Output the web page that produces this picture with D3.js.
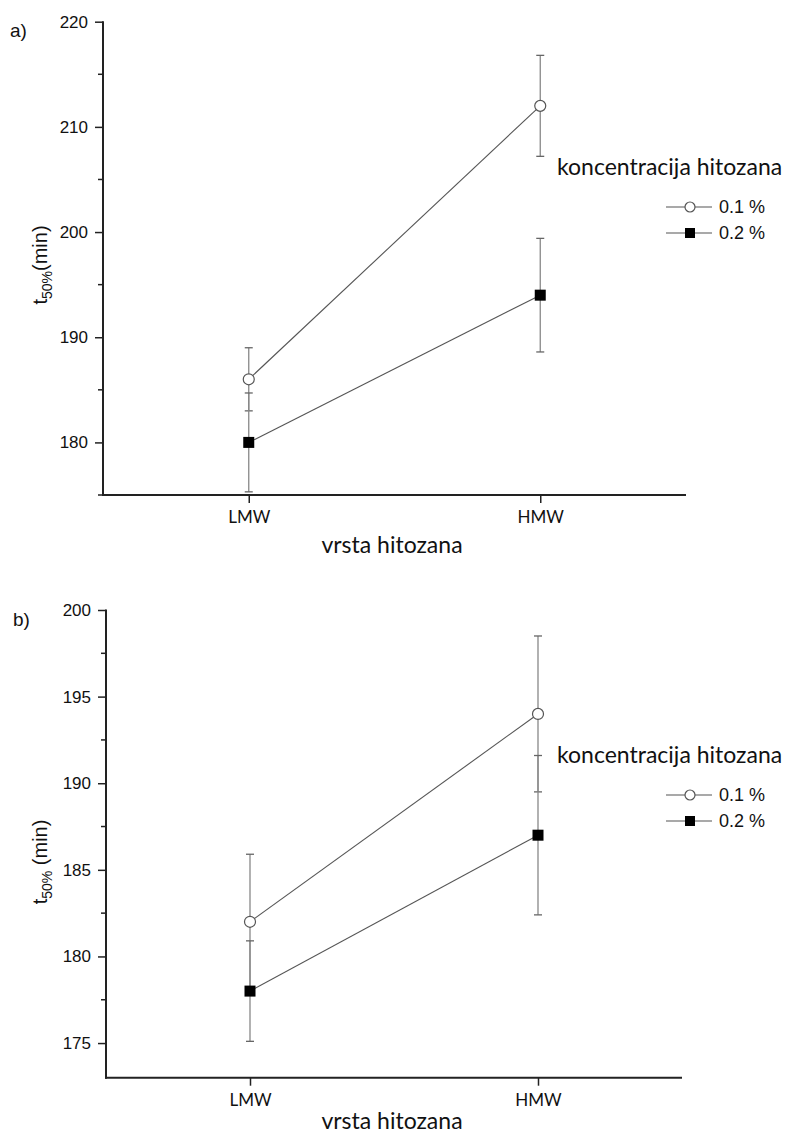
<!DOCTYPE html>
<html>
<head>
<meta charset="utf-8">
<script src="https://cdn.jsdelivr.net/npm/d3@7"></script>
<style>
  body { margin: 0; background: #fff; }
  svg { display: block; }
</style>
</head>
<body>
<svg id="chart" width="804" height="1133"></svg>
<script>
// ---- data ----
const categories = ["LMW", "HMW"];
const seriesNames = ["0.1 %", "0.2 %"];

// panel a
const aMean01 = [186, 212];
const aErr01 = [3, 4.8];
const aMean02 = [180, 194];
const aErr02 = [4.7, 5.4];
const aTicks = [180, 190, 200, 210, 220];
const aMinor = [175, 185, 195, 205, 215];
const aDomain = [175, 220];

// panel b
const bMean01 = [182, 194];
const bErr01 = [3.9, 4.5];
const bMean02 = [178, 187];
const bErr02 = [2.9, 4.6];
const bTicks = [175, 180, 185, 190, 195, 200];
const bMinor = [177.5, 182.5, 187.5, 192.5, 197.5];
const bDomain = [173, 200];

const legendTitle = "koncentracija hitozana";
const xTitle = "vrsta hitozana";

const svg = d3.select("#chart");
svg.append("rect").attr("width", 804).attr("height", 1133).attr("fill", "#fff");

function panel(cfg) {
  const g = svg.append("g");
  const x = d3.scalePoint().domain(categories).range([cfg.left, cfg.right]).padding(0.5);
  const y = d3.scaleLinear().domain(cfg.domain).range([cfg.bottom, cfg.top]);

  // y axis
  const ya = g.append("g").attr("transform", `translate(${cfg.left},0)`)
    .call(d3.axisLeft(y).tickValues(cfg.ticks).tickSize(8).tickPadding(7).tickFormat(d3.format("d")));
  ya.select(".domain").remove();
  ya.selectAll(".tick line").attr("stroke", "#222").attr("stroke-width", 1.5);
  ya.selectAll(".tick text").attr("font-family", "Liberation Sans, Arial, sans-serif")
    .attr("font-size", 17).attr("fill", "#111");
  g.selectAll(".minor").data(cfg.minor).join("line")
    .attr("x1", cfg.left - 5).attr("x2", cfg.left)
    .attr("y1", d => y(d)).attr("y2", d => y(d))
    .attr("stroke", "#222").attr("stroke-width", 1.5);
  g.append("line").attr("x1", cfg.left).attr("x2", cfg.left)
    .attr("y1", y(cfg.domain[1]) - 0.5).attr("y2", cfg.bottom + 1)
    .attr("stroke", "#222").attr("stroke-width", 2);

  // x axis
  const xa = g.append("g").attr("transform", `translate(0,${cfg.bottom})`)
    .call(d3.axisBottom(x).tickSize(8).tickPadding(8));
  xa.select(".domain").remove();
  xa.selectAll(".tick line").attr("stroke", "#222").attr("stroke-width", 1.5);
  xa.selectAll(".tick text").attr("font-family", "Lato, sans-serif")
    .attr("font-size", 17).attr("fill", "#111");
  g.append("line").attr("x1", cfg.left - 1).attr("x2", cfg.right)
    .attr("y1", cfg.bottom).attr("y2", cfg.bottom)
    .attr("stroke", "#222").attr("stroke-width", 2);

  // x title
  g.append("text").attr("x", 392).attr("y", cfg.xTitleY)
    .attr("text-anchor", "middle").attr("font-family", "Lato, sans-serif")
    .attr("font-size", 23).attr("fill", "#111").text(xTitle);

  // y title
  const yt = g.append("text")
    .attr("transform", `translate(${cfg.yTitleX},${cfg.yTitleY}) rotate(-90)`)
    .attr("text-anchor", "middle").attr("font-family", "Liberation Sans, Arial, sans-serif")
    .attr("font-size", 20).attr("fill", "#111");
  yt.append("tspan").text("t");
  yt.append("tspan").attr("font-size", 14).attr("dy", 5).text("50%");
  yt.append("tspan").attr("dy", -5).text(cfg.yUnit);

  // panel label
  g.append("text").attr("x", cfg.labelX).attr("y", cfg.labelY)
    .attr("font-family", "Liberation Sans, Arial, sans-serif").attr("font-size", 19)
    .attr("fill", "#111").text(cfg.label);

  const series = [
    { name: seriesNames[0], mean: cfg.m1, err: cfg.e1, type: "circle" },
    { name: seriesNames[1], mean: cfg.m2, err: cfg.e2, type: "square" }
  ];

  // error bars
  series.forEach(s => {
    categories.forEach((c, i) => {
      const cx = x(c);
      const lo = y(s.mean[i] - s.err[i]), hi = y(s.mean[i] + s.err[i]);
      g.append("line").attr("x1", cx).attr("x2", cx).attr("y1", lo).attr("y2", hi)
        .attr("stroke", "#888").attr("stroke-width", 1.3);
      [lo, hi].forEach(v => g.append("line").attr("x1", cx - 4).attr("x2", cx + 4)
        .attr("y1", v).attr("y2", v).attr("stroke", "#666").attr("stroke-width", 1.3));
    });
  });

  // lines
  const line = d3.line().x((d, i) => x(categories[i])).y(d => y(d));
  series.forEach(s => {
    g.append("path").datum(s.mean).attr("d", line)
      .attr("fill", "none").attr("stroke", "#555").attr("stroke-width", 1.1);
  });

  // markers
  series.forEach(s => {
    s.mean.forEach((v, i) => {
      if (s.type === "circle") {
        g.append("circle").attr("cx", x(categories[i])).attr("cy", y(v)).attr("r", 5.5)
          .attr("fill", "#fff").attr("stroke", "#555").attr("stroke-width", 1.2);
      } else {
        g.append("rect").attr("x", x(categories[i]) - 5.5).attr("y", y(v) - 5.5)
          .attr("width", 11).attr("height", 11).attr("fill", "#000");
      }
    });
  });

  // legend
  g.append("rect").attr("x", 553).attr("y", cfg.legY - 16).attr("width", 250).attr("height", 30)
    .attr("fill", "#fff");
  g.append("text").attr("x", 557).attr("y", cfg.legY + 8)
    .attr("font-family", "Lato, sans-serif").attr("font-size", 23).attr("fill", "#111")
    .text(legendTitle);
  series.forEach((s, k) => {
    const ly = cfg.legY + 40 + k * 26;
    g.append("line").attr("x1", 666).attr("x2", 712).attr("y1", ly).attr("y2", ly)
      .attr("stroke", "#555").attr("stroke-width", 1.1);
    if (s.type === "circle") {
      g.append("circle").attr("cx", 690).attr("cy", ly).attr("r", 5)
        .attr("fill", "#fff").attr("stroke", "#555").attr("stroke-width", 1.2);
    } else {
      g.append("rect").attr("x", 685).attr("y", ly - 5).attr("width", 10).attr("height", 10)
        .attr("fill", "#000");
    }
    g.append("text").attr("x", 719).attr("y", ly + 6)
      .attr("font-family", "Liberation Sans, Arial, sans-serif").attr("font-size", 18)
      .attr("fill", "#111").text(s.name);
  });
}

panel({
  left: 103, right: 686, top: 21.7, bottom: 495,
  domain: aDomain, ticks: aTicks, minor: aMinor,
  m1: aMean01, e1: aErr01, m2: aMean02, e2: aErr02,
  xTitleY: 553, yTitleX: 47, yTitleY: 265, yUnit: "(min)",
  label: "a)", labelX: 10, labelY: 37, legY: 167
});

panel({
  left: 106, right: 682, top: 610, bottom: 1077.7,
  domain: bDomain, ticks: bTicks, minor: bMinor,
  m1: bMean01, e1: bErr01, m2: bMean02, e2: bErr02,
  xTitleY: 1129, yTitleX: 47, yTitleY: 862, yUnit: " (min)",
  label: "b)", labelX: 13, labelY: 626, legY: 755
});
</script>
</body>
</html>
